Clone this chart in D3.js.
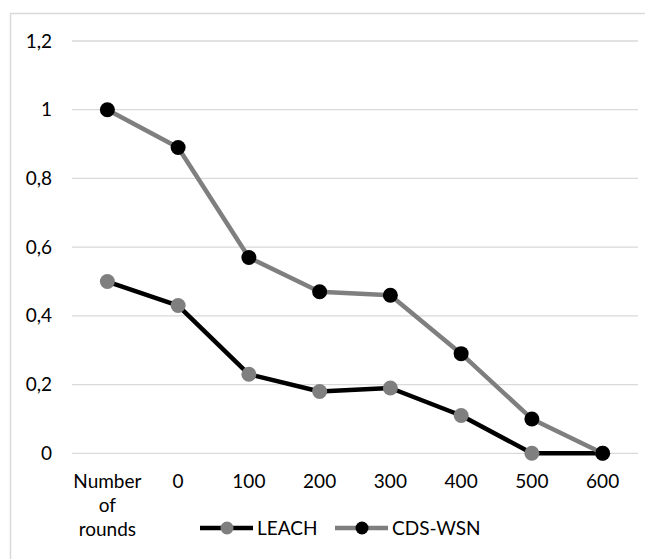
<!DOCTYPE html>
<html><head><meta charset="utf-8">
<script src="https://cdn.jsdelivr.net/npm/d3@7"></script>
<style>body{margin:0;background:#fff}svg{display:block}text{font-family:Lato,"Open Sans",sans-serif}</style>
</head><body><svg id="c" width="645" height="559"></svg>
<script>
const categories = ["Number of rounds","0","100","200","300","400","500","600"];
const leach = [0.5,0.43,0.23,0.18,0.19,0.11,0,0];
const cdswsn = [1,0.89,0.57,0.47,0.46,0.29,0.1,0];
const yTicks = [0,0.2,0.4,0.6,0.8,1,1.2];
const seriesNames = ["LEACH","CDS-WSN"];

const svg = d3.select("#c");
// chart border (cropped)
svg.append("path").attr("d","M10.5,559 L10.5,13.5 L645,13.5").attr("fill","none").attr("stroke","#d9d9d9").attr("stroke-width",1.5);

const x = d3.scaleBand().domain(categories).range([72,638]);
const y = d3.scaleLinear().domain([0,1.2]).range([453.3,41]);
const fmt = d => d3.format("")(d).replace(".",",");

// gridlines
svg.append("g").selectAll("line").data(yTicks).join("line")
  .attr("x1",72).attr("x2",638).attr("y1",d=>y(d)).attr("y2",d=>y(d))
  .attr("stroke","#d9d9d9").attr("stroke-width",1.3);

// y axis labels
const yAxis = d3.axisLeft(y).tickValues(yTicks).tickFormat(fmt).tickSize(0).tickPadding(0);
const gy = svg.append("g").attr("transform","translate(52,0)").call(yAxis);
gy.select(".domain").remove();
gy.selectAll("text").attr("font-size",19).attr("fill","#000").attr("font-family","Lato");

// x axis labels
const xAxis = d3.axisBottom(x).tickSize(0).tickPadding(0);
const gx = svg.append("g").attr("transform","translate(0,474)").call(xAxis);
gx.select(".domain").remove();
gx.selectAll("text").attr("font-size",19).attr("fill","#000").attr("font-family","Lato").attr("dy","0.71em")
  .each(function(d){
    const t = d3.select(this);
    if (d === "Number of rounds") {
      t.text(null);
      ["Number","of","rounds"].forEach((w,i)=>{
        t.append("tspan").attr("x",0).attr("dy", i===0 ? "0.71em" : 24.5).text(w);
      });
      t.attr("dy",null);
    }
  });

const line = d3.line().x((d,i)=>x(categories[i])+x.bandwidth()/2).y(d=>y(d));
const series = [
  {name:seriesNames[0], values:leach, lineColor:"#000000", markColor:"#7f7f7f"},
  {name:seriesNames[1], values:cdswsn, lineColor:"#7f7f7f", markColor:"#000000"}
];
series.forEach(s=>{
  svg.append("path").datum(s.values).attr("d",line).attr("fill","none")
    .attr("stroke",s.lineColor).attr("stroke-width",4.5).attr("stroke-linejoin","round");
});
series.forEach(s=>{
  svg.append("g").selectAll("circle").data(s.values).join("circle")
    .attr("cx",(d,i)=>x(categories[i])+x.bandwidth()/2).attr("cy",d=>y(d)).attr("r",7.5)
    .attr("fill",s.markColor);
});

// legend
const legendX = [200,335];
series.forEach((s,i)=>{
  const g = svg.append("g").attr("transform",`translate(${legendX[i]},528)`);
  g.append("line").attr("x1",0).attr("x2",53).attr("y1",0).attr("y2",0).attr("stroke",s.lineColor).attr("stroke-width",4.5);
  g.append("circle").attr("cx",27).attr("cy",0).attr("r",6.5).attr("fill",s.markColor);
  g.append("text").attr("x",57).attr("y",0).attr("dy","0.35em").attr("font-size",19).attr("fill","#000").text(s.name);
});
</script></body></html>
